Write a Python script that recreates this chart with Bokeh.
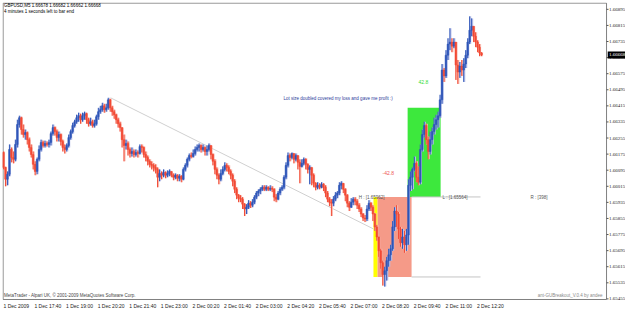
from bokeh.plotting import figure
from bokeh.models import Range1d, LinearAxis, FixedTicker, ColumnDataSource
from bokeh.core.properties import value
from bokeh.embed import file_html
from bokeh.resources import INLINE

# ---- data (GBPUSD M5, 1 Dec 2009 16:20 -> 2 Dec 2009 12:25) ----
first_open = 1.66183
closes = [
    1.66109, 1.66050, 1.66075, 1.66198, 1.66158, 1.66149, 1.66223, 1.66322, 1.66356, 1.66297,
    1.66272, 1.66282, 1.66247, 1.66208, 1.66173, 1.66124, 1.66089, 1.66149, 1.66198, 1.66233,
    1.66218, 1.66228, 1.66223, 1.66233, 1.66277, 1.66307, 1.66287, 1.66257, 1.66272, 1.66238,
    1.66208, 1.66198, 1.66218, 1.66257, 1.66287, 1.66317, 1.66336, 1.66356, 1.66366, 1.66346,
    1.66366, 1.66376, 1.66346, 1.66326, 1.66336, 1.66317, 1.66326, 1.66361, 1.66386, 1.66396,
    1.66415, 1.66396, 1.66405, 1.66445, 1.66405, 1.66386, 1.66371, 1.66346, 1.66326, 1.66307,
    1.66247, 1.66218, 1.66228, 1.66198, 1.66178, 1.66188, 1.66173, 1.66183, 1.66178, 1.66213,
    1.66208, 1.66173, 1.66158, 1.66139, 1.66124, 1.66119, 1.66109, 1.66099, 1.66060, 1.66079,
    1.66070, 1.66084, 1.66070, 1.66079, 1.66089, 1.66070, 1.66060, 1.66070, 1.66055, 1.66065,
    1.66050, 1.66099, 1.66119, 1.66149, 1.66168, 1.66163, 1.66178, 1.66198, 1.66208, 1.66218,
    1.66198, 1.66208, 1.66188, 1.66198, 1.66218, 1.66173, 1.66139, 1.66099, 1.66070, 1.66050,
    1.66079, 1.66099, 1.66119, 1.66109, 1.66089, 1.66070, 1.66040, 1.66000, 1.65971, 1.65956,
    1.65951, 1.65926, 1.65902, 1.65911, 1.65931, 1.65921, 1.65936, 1.65961, 1.65981, 1.65991,
    1.66000, 1.66010, 1.66000, 1.66010, 1.66000, 1.66005, 1.66000, 1.65961, 1.65951, 1.65981,
    1.66000, 1.66010, 1.66060, 1.66119, 1.66168, 1.66158, 1.66178, 1.66149, 1.66168, 1.66134,
    1.66114, 1.66129, 1.66149, 1.66124, 1.66099, 1.66109, 1.66070, 1.66030, 1.66010, 1.66020,
    1.66010, 1.66025, 1.66010, 1.65981, 1.65951, 1.65936, 1.65931, 1.65951, 1.65971, 1.65981,
    1.66020, 1.66030, 1.66000, 1.65971, 1.65931, 1.65911, 1.65936, 1.65951, 1.65941, 1.65921,
    1.65902, 1.65877, 1.65857, 1.65852, 1.65902, 1.65931, 1.65911, 1.65877, 1.65813, 1.65763,
    1.65694, 1.65635, 1.65576, 1.65595, 1.65645, 1.65674, 1.65704, 1.65813, 1.65892, 1.65877,
    1.65803, 1.65734, 1.65763, 1.65724, 1.65773, 1.66020, 1.66060, 1.66099, 1.66129, 1.66060,
    1.66035, 1.66198, 1.66272, 1.66317, 1.66247, 1.66188, 1.66247, 1.66287, 1.66322, 1.66346,
    1.66366, 1.66445, 1.66593, 1.66564, 1.66667, 1.66722, 1.66732, 1.66712, 1.66732, 1.66618,
    1.66583, 1.66613, 1.66593, 1.66623, 1.66667, 1.66732, 1.66791, 1.66811, 1.66761, 1.66732,
    1.66707, 1.66678, 1.66668,
]
highs = [
    1.66188, 1.66112, 1.66089, 1.66223, 1.66208, 1.66188, 1.66247, 1.66346, 1.66366, 1.66361,
    1.66322, 1.66297, 1.66287, 1.66257, 1.66223, 1.66188, 1.66139, 1.66158, 1.66218, 1.66247,
    1.66242, 1.66242, 1.66238, 1.66247, 1.66287, 1.66322, 1.66312, 1.66297, 1.66287, 1.66277,
    1.66247, 1.66223, 1.66228, 1.66272, 1.66297, 1.66331, 1.66346, 1.66371, 1.66381, 1.66376,
    1.66381, 1.66386, 1.66381, 1.66356, 1.66356, 1.66346, 1.66346, 1.66371, 1.66405, 1.66415,
    1.66430, 1.66425, 1.66425, 1.66455, 1.66450, 1.66415, 1.66396, 1.66376, 1.66356, 1.66336,
    1.66307, 1.66272, 1.66247, 1.66238, 1.66208, 1.66208, 1.66198, 1.66198, 1.66193, 1.66223,
    1.66223, 1.66213, 1.66188, 1.66168, 1.66149, 1.66139, 1.66129, 1.66124, 1.66109, 1.66099,
    1.66089, 1.66099, 1.66089, 1.66094, 1.66099, 1.66089, 1.66079, 1.66079, 1.66075, 1.66075,
    1.66070, 1.66109, 1.66129, 1.66158, 1.66178, 1.66183, 1.66198, 1.66213, 1.66223, 1.66228,
    1.66223, 1.66223, 1.66213, 1.66218, 1.66228, 1.66218, 1.66178, 1.66149, 1.66109, 1.66079,
    1.66099, 1.66114, 1.66134, 1.66129, 1.66119, 1.66099, 1.66079, 1.66050, 1.66010, 1.65976,
    1.65971, 1.65961, 1.65931, 1.65926, 1.65946, 1.65941, 1.65951, 1.65971, 1.65991, 1.66000,
    1.66010, 1.66020, 1.66020, 1.66020, 1.66015, 1.66020, 1.66015, 1.66005, 1.65976, 1.65991,
    1.66010, 1.66020, 1.66070, 1.66134, 1.66183, 1.66178, 1.66183, 1.66178, 1.66178, 1.66168,
    1.66149, 1.66149, 1.66158, 1.66154, 1.66129, 1.66119, 1.66109, 1.66079, 1.66035, 1.66035,
    1.66030, 1.66035, 1.66030, 1.66020, 1.65991, 1.65961, 1.65951, 1.65966, 1.65986, 1.65991,
    1.66035, 1.66040, 1.66030, 1.66005, 1.65976, 1.65941, 1.65956, 1.65961, 1.65961, 1.65951,
    1.65931, 1.65911, 1.65882, 1.65872, 1.65921, 1.65946, 1.65936, 1.65921, 1.65882, 1.65823,
    1.65763, 1.65704, 1.65645, 1.65615, 1.65664, 1.65704, 1.65724, 1.65842, 1.65911, 1.65921,
    1.65887, 1.65813, 1.65803, 1.65793, 1.65803, 1.66050, 1.66089, 1.66109, 1.66163, 1.66139,
    1.66114, 1.66223, 1.66297, 1.66336, 1.66326, 1.66262, 1.66287, 1.66307, 1.66356, 1.66371,
    1.66386, 1.66470, 1.66623, 1.66603, 1.66692, 1.66751, 1.66801, 1.66751, 1.66751, 1.66732,
    1.66643, 1.66633, 1.66643, 1.66652, 1.66692, 1.66751, 1.66860, 1.66850, 1.66811, 1.66781,
    1.66741, 1.66722, 1.66682,
]
lows = [
    1.66099, 1.66015, 1.66020, 1.66065, 1.66134, 1.66129, 1.66139, 1.66208, 1.66307, 1.66272,
    1.66257, 1.66247, 1.66223, 1.66188, 1.66158, 1.66099, 1.66070, 1.66075, 1.66139, 1.66188,
    1.66208, 1.66208, 1.66213, 1.66208, 1.66218, 1.66267, 1.66267, 1.66238, 1.66238, 1.66218,
    1.66188, 1.66178, 1.66188, 1.66208, 1.66247, 1.66277, 1.66307, 1.66326, 1.66336, 1.66326,
    1.66336, 1.66346, 1.66326, 1.66312, 1.66317, 1.66307, 1.66307, 1.66317, 1.66346, 1.66376,
    1.66386, 1.66381, 1.66386, 1.66396, 1.66386, 1.66366, 1.66351, 1.66326, 1.66307, 1.66287,
    1.66208, 1.66139, 1.66198, 1.66168, 1.66158, 1.66163, 1.66158, 1.66163, 1.66158, 1.66173,
    1.66183, 1.66158, 1.66139, 1.66119, 1.66109, 1.66099, 1.66089, 1.66079, 1.66010, 1.66040,
    1.66050, 1.66060, 1.66055, 1.66060, 1.66065, 1.66060, 1.66045, 1.66050, 1.66040, 1.66040,
    1.66035, 1.66045, 1.66089, 1.66109, 1.66139, 1.66154, 1.66158, 1.66168, 1.66188, 1.66188,
    1.66183, 1.66188, 1.66168, 1.66168, 1.66188, 1.66149, 1.66119, 1.66075, 1.66050, 1.66025,
    1.66040, 1.66070, 1.66089, 1.66089, 1.66075, 1.66050, 1.66015, 1.65981, 1.65951, 1.65936,
    1.65936, 1.65902, 1.65867, 1.65877, 1.65902, 1.65907, 1.65911, 1.65926, 1.65951, 1.65966,
    1.65976, 1.65991, 1.65991, 1.65991, 1.65991, 1.65991, 1.65986, 1.65941, 1.65936, 1.65946,
    1.65971, 1.65991, 1.66000, 1.66050, 1.66109, 1.66139, 1.66149, 1.66129, 1.66139, 1.66099,
    1.66030, 1.66109, 1.66119, 1.66099, 1.66079, 1.66025, 1.66020, 1.66010, 1.65995, 1.66000,
    1.66000, 1.66005, 1.65991, 1.65961, 1.65936, 1.65916, 1.65867, 1.65916, 1.65941, 1.65956,
    1.65971, 1.66000, 1.65981, 1.65941, 1.65911, 1.65892, 1.65907, 1.65921, 1.65921, 1.65902,
    1.65887, 1.65862, 1.65842, 1.65837, 1.65842, 1.65892, 1.65892, 1.65842, 1.65793, 1.65744,
    1.65664, 1.65605, 1.65521, 1.65516, 1.65546, 1.65615, 1.65645, 1.65694, 1.65793, 1.65813,
    1.65753, 1.65714, 1.65704, 1.65684, 1.65694, 1.65724, 1.65991, 1.66000, 1.66089, 1.66035,
    1.66020, 1.66025, 1.66188, 1.66257, 1.66223, 1.66149, 1.66173, 1.66223, 1.66272, 1.66297,
    1.66307, 1.66356, 1.66425, 1.66534, 1.66554, 1.66643, 1.66692, 1.66682, 1.66702, 1.66544,
    1.66524, 1.66554, 1.66564, 1.66534, 1.66603, 1.66652, 1.66722, 1.66761, 1.66732, 1.66707,
    1.66682, 1.66662, 1.66662,
]
time_labels = [
    "1 Dec 2009", "1 Dec 17:40", "1 Dec 19:00", "1 Dec 20:20", "1 Dec 21:40", "1 Dec 23:00",
    "2 Dec 00:20", "2 Dec 01:40", "2 Dec 03:00", "2 Dec 04:20", "2 Dec 05:40", "2 Dec 07:00",
    "2 Dec 08:20", "2 Dec 09:40", "2 Dec 11:00", "2 Dec 12:20",
]
price_ticks = [
    1.65455, 1.65535, 1.65615, 1.65695, 1.65775, 1.65855, 1.65935, 1.66015, 1.66095, 1.66175,
    1.66255, 1.66335, 1.66415, 1.66495, 1.66575, 1.66655, 1.66735, 1.66815, 1.66895,
]
last_price = 1.66668
range_high = 1.65962
range_low = 1.65564
profit_top = 1.66405
trend_start_price = 1.66455
trend_end_price = 1.65803

# ---- geometry (bar units / price units) ----
X_END = 315.4          # frame spans the whole width incl. the price scale
SCALE_X = 305.8        # chart / price-scale separator
Y_BOT, Y_TOP = 1.65442, 1.66929
BORDER_BOT, BORDER_TOP = 1.65452, 1.66926

opens = [first_open] + closes[:-1]
n = len(closes)
xs = [i + 0.5 for i in range(n)]
UP, DN = "#2f56b8", "#f24a35"
UP_PALE, DN_PALE = "#bcc3ea", "#f8bcb2"
is_up = [c >= o for o, c in zip(opens, closes)]
src = ColumnDataSource(dict(
    x=xs, xp=[x + 0.35 for x in xs], h=highs, l=lows,
    top=[max(o, c) for o, c in zip(opens, closes)],
    bottom=[min(o, c) for o, c in zip(opens, closes)],
    color=[UP if u else DN for u in is_up],
    pale=[UP_PALE if u else DN_PALE for u in is_up],
))

p = figure(width=625, height=311, output_backend="svg", toolbar_location=None,
           x_range=Range1d(0, X_END), y_range=Range1d(Y_BOT, Y_TOP),
           x_axis_location=None, y_axis_location=None,
           min_border_left=2, min_border_top=2, min_border_right=0, min_border_bottom=8)
p.grid.visible = False
p.background_fill_color = "white"
p.border_fill_color = "white"
p.outline_line_color = None

FONT = "Liberation Sans"

# bottom time axis
tick_pos = [16 * k + 7 for k in range(len(time_labels))]
xa = LinearAxis(ticker=FixedTicker(ticks=tick_pos))
xa.major_label_overrides = {t: lab for t, lab in zip(tick_pos, time_labels)}
xa.major_label_text_font = FONT
xa.major_label_text_font_size = "5px"
xa.major_label_text_color = "#222222"
xa.major_tick_out = 0
xa.major_tick_in = 0
xa.minor_tick_out = 0
xa.minor_tick_in = 0
xa.major_label_standoff = 1
xa.axis_line_color = None
p.add_layout(xa, "below")

# chart border (MT4 style frame around the price area)
BORDER = "#808080"
p.segment(x0=[0.3, 0.3, 0.3, SCALE_X], y0=[BORDER_BOT, BORDER_TOP, BORDER_BOT, BORDER_BOT],
          x1=[0.3, SCALE_X, SCALE_X, SCALE_X], y1=[BORDER_TOP, BORDER_TOP, BORDER_BOT, BORDER_TOP],
          line_color=BORDER, line_width=1)

# price scale: ticks and labels
p.segment(x0=[SCALE_X] * len(price_ticks), y0=price_ticks, x1=[SCALE_X + 1.0] * len(price_ticks),
          y1=price_ticks, line_color="#555555", line_width=1)
p.text(x=[SCALE_X + 1.3] * len(price_ticks), y=price_ticks, text=[f"{t:.5f}" for t in price_ticks],
       text_font=value("Liberation Sans Narrow"), text_font_size="5px", text_color="#222222",
       text_align="left", text_baseline="middle")

# breakout boxes
yel_l, yel_r = 187.8, 189.9
red_r = 207.1
grn_l, grn_r = 205.1, 221.8
line_end = 242.0
p.quad(left=[yel_l], right=[yel_r], top=[range_high], bottom=[range_low], fill_color="#ffff00", line_color=None)
p.quad(left=[yel_r], right=[red_r], top=[range_high], bottom=[range_low], fill_color="#f59a88", line_color=None)
p.quad(left=[grn_l], right=[grn_r], top=[profit_top], bottom=[range_high], fill_color="#3de83d", line_color=None)
p.segment(x0=[red_r, red_r], y0=[range_high, range_low], x1=[line_end, line_end], y1=[range_high, range_low],
          line_color="#c4c4c4", line_width=1)
# trend line
p.line(x=[54.7, yel_l], y=[trend_start_price, trend_end_price], line_color="#d0d0d0", line_width=1)

# candles: pale shadow bars, then wicks and bodies
p.vbar(x="xp", width=0.9, top="h", bottom="l", fill_color="pale", line_color=None, source=src)
p.segment(x0="x", y0="l", x1="x", y1="h", color="color", line_width=1, source=src)
p.vbar(x="x", width=0.85, top="top", bottom="bottom", fill_color="color", line_color="color", line_width=0.5, source=src)

# texts
def txt(x, y, s, color, size="4.5px", align="left"):
    p.text(x=[x], y=[y], text=[s], text_color=color, text_font=value(FONT), text_font_size=size,
           text_align=align, text_baseline="middle")

txt(0.8, 1.66914, "GBPUSD,M5  1.66678 1.66682 1.66662 1.66668", "#000000")
txt(0.8, 1.66885, "4 minutes 1 seconds left to bar end", "#000000")
txt(142.3, 1.66450, "Lot size doubled covered my loss and gave me profit :)", "#2a3a9a")
txt(210.6, 1.66534, "42.8", "#33dd33", "5px")
txt(192.4, 1.66079, "-42.8", "#ee5555", "5px")
txt(180.3, 1.65961, "H : [1.65962]", "#555555")
txt(222.8, 1.65961, "L : [1.65564]", "#555555")
txt(267.3, 1.65961, "R : [398]", "#555555")
txt(0.8, 1.65472, "MetaTrader - Alpari UK, \u00a9 2001-2009 MetaQuotes Software Corp.", "#444444")
txt(303.8, 1.65472, "ant-GUBreakout_V.0.4 by andee", "#8a8a8a", align="right")

# current price box on the price scale
p.quad(left=[SCALE_X + 0.6], right=[X_END], top=[last_price + 0.00017], bottom=[last_price - 0.00017],
       fill_color="black", line_color=None)
p.text(x=[SCALE_X + 1.3], y=[last_price], text=[f"{last_price:.5f}"], text_color="white",
       text_font=value("Liberation Sans Narrow"), text_font_size="5px", text_align="left", text_baseline="middle")

open("out.html", "w").write(file_html(p, INLINE))
